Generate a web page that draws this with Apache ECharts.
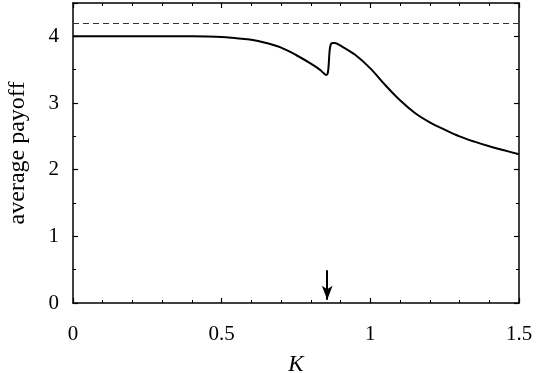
<!DOCTYPE html>
<html>
<head>
<meta charset="utf-8">
<script src="https://cdn.jsdelivr.net/npm/echarts@6/dist/echarts.min.js"></script>
<style>
  html, body { margin: 0; padding: 0; background: #fff; }
  #chart { width: 536px; height: 373px; }
</style>
</head>
<body>
<div id="chart"></div>
<script>
// K 取值和对应的平均收益
const kValues = [0, 0.1, 0.2, 0.3, 0.4, 0.45, 0.5, 0.55, 0.6, 0.65, 0.7, 0.75, 0.8, 0.83, 0.845, 0.852, 0.857, 0.86, 0.863, 0.867, 0.873, 0.88, 0.9, 0.95, 1.0, 1.05, 1.1, 1.15, 1.2, 1.25, 1.3, 1.35, 1.4, 1.45, 1.5];
const payoff = [4.0, 4.0, 4.0, 4.0, 4.0, 3.998, 3.99, 3.97, 3.95, 3.9, 3.83, 3.72, 3.59, 3.5, 3.44, 3.42, 3.45, 3.58, 3.78, 3.88, 3.9, 3.9, 3.86, 3.72, 3.52, 3.27, 3.04, 2.85, 2.71, 2.6, 2.5, 2.42, 2.35, 2.29, 2.23];
// 上限虚线和箭头位置
const upperBound = 4.2;
const arrowK = 0.855;
const arrowFrom = 0.49;
const arrowTo = 0.05;

const font = "'Liberation Serif', 'DejaVu Serif', serif";

const chart = echarts.init(document.getElementById("chart"));

const baseAxis = {
  axisLine: { show: true, onZero: false, lineStyle: { color: "#000", width: 1.5 } },
  axisTick: { show: true, inside: true, length: 5, lineStyle: { color: "#000", width: 1.2 } },
  minorTick: { show: true, length: 3, lineStyle: { color: "#000", width: 1 } },
  splitLine: { show: false },
};

chart.setOption({
  animation: false,
  grid: { left: 73, right: 17, top: 3, bottom: 70, outerBoundsMode: "none" },
  xAxis: [
    Object.assign({}, baseAxis, {
      type: "value",
      min: 0,
      max: 1.5,
      interval: 0.5,
      minorTick: Object.assign({}, baseAxis.minorTick, { splitNumber: 5 }),
      name: "K",
      nameLocation: "middle",
      nameGap: 50,
      nameTextStyle: { fontFamily: font, fontSize: 23, fontStyle: "italic", color: "#000" },
      axisLabel: { fontFamily: font, fontSize: 21, color: "#000", margin: 21 },
    }),
    Object.assign({}, baseAxis, {
      type: "value",
      position: "top",
      min: 0,
      max: 1.5,
      interval: 0.5,
      minorTick: Object.assign({}, baseAxis.minorTick, { splitNumber: 5 }),
      axisLabel: { show: false },
    }),
  ],
  yAxis: [
    Object.assign({}, baseAxis, {
      type: "value",
      min: 0,
      max: 4.5,
      interval: 1,
      minorTick: Object.assign({}, baseAxis.minorTick, { splitNumber: 2 }),
      name: "average payoff",
      nameLocation: "middle",
      nameGap: 43,
      nameTextStyle: { fontFamily: font, fontSize: 24, color: "#000" },
      axisLabel: { fontFamily: font, fontSize: 21, color: "#000", margin: 14, showMaxLabel: false },
    }),
    Object.assign({}, baseAxis, {
      type: "value",
      position: "right",
      min: 0,
      max: 4.5,
      interval: 1,
      minorTick: Object.assign({}, baseAxis.minorTick, { splitNumber: 2 }),
      axisLabel: { show: false },
    }),
  ],
  series: [
    {
      type: "line",
      data: kValues.map((k, i) => [k, payoff[i]]),
      showSymbol: false,
      smooth: 0.35,
      lineStyle: { color: "#000", width: 2 },
      markLine: {
        silent: true,
        animation: false,
        label: { show: false },
        data: [
          [
            { coord: [0, upperBound], symbol: "none", lineStyle: { type: [6, 4], width: 1.2, color: "#333" } },
            { coord: [1.5, upperBound], symbol: "none" },
          ],
          [
            { coord: [arrowK, arrowFrom], symbol: "none", lineStyle: { type: "solid", width: 2, color: "#000" } },
            { coord: [arrowK, arrowTo], symbol: "arrow", symbolSize: [8, 14] },
          ],
        ],
      },
    },
  ],
});
</script>
</body>
</html>
